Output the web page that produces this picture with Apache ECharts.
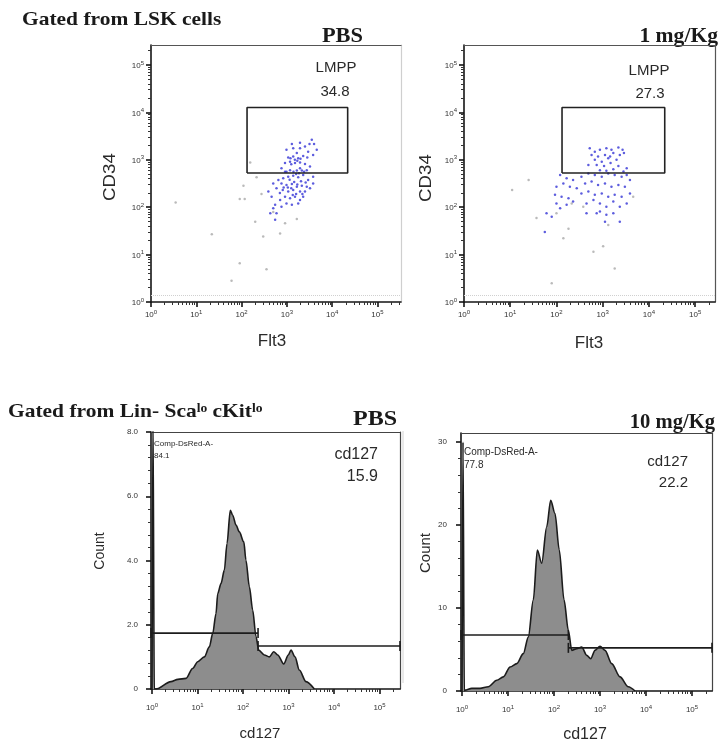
<!DOCTYPE html>
<html>
<head>
<meta charset="utf-8">
<script src="https://cdn.jsdelivr.net/npm/echarts@6/dist/echarts.min.js"></script>
<style>
  html, body { margin: 0; padding: 0; background: #fff; }
  #chart { width: 720px; height: 745px; }
</style>
</head>
<body>
<div id="chart"></div>
<script>
// ---- Flow cytometry data ----------------------------------------------
// LMPP gate, PBS: [Flt3, CD34] events
const pbsBlue = [
  [1290,2140],[1950,2290],[3160,2140],[3980,2140],[980,1620],[1380,1740],[1950,1740],[2510,1905],
  [2950,1480],[1660,1380],[1070,1120],[1200,1070],[1380,1175],[1780,1070],[2290,1200],[2820,1120],
  [3800,1260],[910,850],[1175,912],[1510,850],[1950,870],[2510,810],[1950,660],[1660,590],[2140,590],
  [1175,600],[980,560],[2750,600],[3240,720],[760,660],[4570,1620],[3550,2630],
  [650,372],[830,407],[1070,437],[1380,457],[1780,427],[2290,479],[2950,372],[3800,316],[760,316],
  [980,295],[1290,309],[1660,269],[2140,282],[2750,269],[590,251],[810,229],[1070,214],[1380,229],
  [1950,214],[2510,214],[910,166],[1175,155],[1510,166],[1950,141],[710,141],[980,120],[1290,112],
  [1780,120],[550,112],[500,95],[430,74],[590,74],[550,54],[760,102],[2290,166],[3240,251],[3800,437],
  [460,166],[390,214],[910,560],[500,316],
  [1500,1000],[1700,950],[1250,800],[2000,1050],[1400,560],[1600,500],[1850,520],[2400,560],[1150,380],
  [1450,340],[2050,350],[2600,330],[1700,300],[1250,250],[1600,190],[2200,190],[1350,180],[850,260],
  [700,200],[1050,260]
];
const pbsGrey = [
  [3.5,126],[22,27],[91,6.6],[60,2.8],[355,4.9],[300,24],[200,49],[110,282],[91,148],[117,148],
  [275,190],[214,427],[155,870],[708,28],[912,46],[500,79],[1660,56]
];
// LMPP gate, 1 mg/Kg: [Flt3, CD34] events
const mgBlue = [
  [525,1740],[676,1480],[871,1620],[1202,1740],[1549,1620],[2188,1820],[2692,1620],[575,1260],
  [794,1175],[1122,1260],[1698,1380],[2344,1260],[2884,1380],[676,1000],[955,912],[1318,1070],
  [1995,1000],[490,776],[741,776],[1072,741],[1479,851],[2188,741],[3311,661],[871,603],[1202,589],
  [1698,631],[2818,562],[1445,1175],
  [120,479],[166,407],[229,372],[347,437],[490,513],[676,479],[955,437],[1318,513],[1820,479],
  [2570,437],[3311,479],[3890,372],[100,269],[141,316],[195,269],[275,251],[417,316],[575,347],
  [794,295],[1122,316],[1549,269],[2188,295],[3020,269],[93,182],[129,166],[182,155],[347,195],
  [490,214],[676,182],[955,195],[1318,166],[1820,182],[2570,166],[3890,195],[100,120],[166,112],
  [229,132],[447,120],[631,141],[871,120],[1202,102],[1698,132],[2344,102],[3311,120],[871,81],
  [1202,69],[1698,74],[2344,49],[1122,49],[120,95],[61,74],[56,30],[79,63],[447,74],[741,74]
];
const mgGrey = [
  [11,229],[25,372],[37,59],[100,74],[141,22],[182,35],[214,120],[631,11.5],[1023,15],[1820,5.1],
  [79,2.5],[4571,166],[1318,42],[380,102]
];
const lmppGate = { flt3: [132, 22000], cd34: [525, 12600] };
const lmppPct = ['34.8', '27.3'];

// cd127 histograms: [cd127 intensity, count]
const histPBS = [
  [1.0,0],[1.05,8.5],[1.12,0],[1.22,0],[2.6,0.23],[3.7,0.3],[5.6,0.33],[7.8,0.64],[10.1,0.85],
  [14.1,1.0],[18.2,1.31],[21.6,1.73],[25.5,2.35],[27.8,2.97],[32.8,3.28],[38.9,3.7],[44.5,4.53],
  [52.6,5.56],[59.3,5.41],[70.2,5.1],[83,4.89],[104,4.58],[116,4.01],[138,3.18],[163,2.46],
  [193,1.63],[221,1.21],[294,1.06],[378,1.0],[473,1.16],[579,1.06],[785,0.78],[991,1.06],
  [1135,1.21],[1390,1.0],[1727,0.59],[2427,0.23],[3690,0]
];
const hist10mg = [
  [1.0,0],[1.05,30],[1.12,0],[1.16,0.1],[1.63,0.32],[2.46,0.32],[3.73,0.52],[5.7,1.3],[7.9,1.7],
  [11.1,2.9],[15.5,3.3],[21.5,4.5],[27.6,6.5],[35.5,11],[43.4,17.0],[54,15.4],[69.4,19.8],
  [84.7,23.0],[105,21.4],[130,17.0],[165,11],[205,7.3],[243,4.9],[311,5.1],[400,5.3],[514,4.3],
  [628,3.9],[778,4.9],[1000,5.4],[1285,4.9],[1795,3.3],[2723,1.7],[4121,0.52],[5768,0]
];
const gatePBS = { split: 214, left: 1.74, right: 1.34 };
const gate10mg = { split: 205, left: 6.75, right: 5.2 };
const cd127Pct = ['15.9', '22.2'];
const parentPct = ['84.1', '77.8'];

// ---- Axis helpers -------------------------------------------------------
const SANS = '"Liberation Sans", Arial, sans-serif';
const SERIF = '"Liberation Serif", "Times New Roman", serif';
const INK = '#151515';

function decades(min, max) {
  const out = [];
  for (let e = -1; e <= 6; e++) { const v = Math.pow(10, e); if (v >= min && v <= max) out.push(v); }
  return out;
}
function logMinor(min, max) {
  const out = [];
  for (let e = -1; e <= 6; e++) for (let k = 2; k <= 9; k++) {
    const v = k * Math.pow(10, e); if (v > min && v < max) out.push(v);
  }
  return out;
}
function linMinor(max, step, major) {
  const out = [];
  for (let i = 1; i * step < max; i++) {
    const v = +(i * step).toFixed(4);
    if (Math.abs(v / major - Math.round(v / major)) > 1e-6) out.push(v);
  }
  return out;
}
const expRich = {
  b: { fontSize: 8, fontFamily: SANS, color: '#333', verticalAlign: 'bottom' },
  s: { fontSize: 6, fontFamily: SANS, color: '#333', verticalAlign: 'top', padding: [0, 0, 4, 0] }
};
const expLabel = v => '{b|10}{s|' + Math.round(Math.log10(v)) + '}';

const xAxes = [], yAxes = [];
const hidden = { axisLine: { show: false }, axisTick: { show: false }, axisLabel: { show: false }, splitLine: { show: false } };

function addX(grid, type, min, max, frameColor, opts) {
  const main = xAxes.length;
  const base = { type, gridIndex: grid, min, max, position: 'bottom', splitLine: { show: false } };
  if (type === 'log') base.logBase = 10;
  xAxes.push(Object.assign({}, base, {
    axisLine: { onZero: false, lineStyle: { color: INK, width: 1.6 } },
    axisTick: { customValues: opts.major, length: 5, lineStyle: { color: INK, width: 1.6 } },
    axisLabel: { customValues: opts.major, margin: opts.margin, formatter: expLabel, rich: expRich }
  }));
  xAxes.push(Object.assign({}, base, hidden, {
    axisTick: { show: true, customValues: opts.minor, length: 3, lineStyle: { color: '#333', width: 1 } }
  }));
  xAxes.push(Object.assign({}, base, hidden, {
    position: 'top', axisLine: { show: true, onZero: false, lineStyle: { color: frameColor, width: 1.2 } }
  }));
  return main;
}
function addY(grid, type, min, max, frameColor, opts) {
  const main = yAxes.length;
  const base = { type, gridIndex: grid, min, max, position: 'left', splitLine: { show: false } };
  if (type === 'log') base.logBase = 10;
  yAxes.push(Object.assign({}, base, {
    axisLine: { onZero: false, lineStyle: { color: INK, width: 1.6 } },
    axisTick: { customValues: opts.major, length: 5, lineStyle: { color: INK, width: 1.6 } },
    axisLabel: Object.assign({ customValues: opts.major, margin: opts.margin }, opts.label)
  }));
  yAxes.push(Object.assign({}, base, hidden, {
    axisTick: { show: true, customValues: opts.minor, length: 3, lineStyle: { color: '#333', width: 1 } }
  }));
  yAxes.push(Object.assign({}, base, hidden, {
    position: 'right', axisLine: { show: true, onZero: false, lineStyle: { color: frameColor, width: 1.2 } }
  }));
  return main;
}

// ---- Panels -------------------------------------------------------------
const grids = [
  { left: 151, top: 45, width: 250, height: 257 },
  { left: 464, top: 45, width: 251, height: 257 },
  { left: 151, top: 432, width: 249, height: 257 },
  { left: 461, top: 433, width: 251, height: 258 }
].map(g => Object.assign({ containLabel: false, outerBoundsMode: 'none', show: false }, g));

const logLabelY = { formatter: expLabel, rich: expRich };

// Top: Flt3 vs CD34 dot plots
const sx = [
  addX(0, 'log', 1, 331000, '#555', { major: decades(1, 331000), minor: logMinor(1, 331000), margin: 7 }),
  addX(1, 'log', 1, 269000, '#555', { major: decades(1, 269000), minor: logMinor(1, 269000), margin: 7 })
];
const sy = [
  addY(0, 'log', 1, 263000, '#cfcfcf', { major: decades(1, 263000), minor: logMinor(1, 263000), margin: 7, label: logLabelY }),
  addY(1, 'log', 1, 263000, '#555', { major: decades(1, 263000), minor: logMinor(1, 263000), margin: 7, label: logLabelY })
];
// Bottom: cd127 histograms
const hx = [
  addX(2, 'log', 0.95, 282000, '#444', { major: decades(0.95, 282000), minor: logMinor(0.95, 282000), margin: 13 }),
  addX(3, 'log', 0.95, 272000, '#444', { major: decades(0.95, 272000), minor: logMinor(0.95, 272000), margin: 13 })
];
const countLabel = { fontSize: 8, fontFamily: SANS, color: '#333' };
const hy = [
  addY(2, 'value', 0, 8, '#444', {
    major: [0, 2, 4, 6, 8], minor: linMinor(8, 0.4, 2), margin: 13,
    label: Object.assign({ formatter: v => (v === 0 ? '0' : v.toFixed(1)) }, countLabel)
  }),
  addY(3, 'value', 0, 31.1, '#444', {
    major: [0, 10, 20, 30], minor: linMinor(31.1, 2, 10), margin: 14,
    label: Object.assign({ formatter: v => String(v) }, countLabel)
  })
];

const series = [];
function dotPlot(i, grey, blue) {
  series.push({
    type: 'scatter', xAxisIndex: sx[i], yAxisIndex: sy[i], data: grey, symbolSize: 2.5,
    itemStyle: { color: '#a9a9a9' }, silent: true,
    markLine: {
      silent: true, symbol: 'none', label: { show: false }, animation: false,
      lineStyle: { color: '#d0d0d0', type: 'dotted', width: 1 }, data: [{ yAxis: 1.4 }]
    }
  });
  series.push({
    type: 'scatter', xAxisIndex: sx[i], yAxisIndex: sy[i], data: blue, symbolSize: 2.5,
    itemStyle: { color: '#3434d6' }, silent: true
  });
  const g = lmppGate;
  series.push({
    type: 'line', xAxisIndex: sx[i], yAxisIndex: sy[i], symbol: 'none', silent: true,
    lineStyle: { color: '#222', width: 1.6 },
    data: [[g.flt3[0], g.cd34[0]], [g.flt3[1], g.cd34[0]], [g.flt3[1], g.cd34[1]],
           [g.flt3[0], g.cd34[1]], [g.flt3[0], g.cd34[0]]]
  });
}
dotPlot(0, pbsGrey, pbsBlue);
dotPlot(1, mgGrey, mgBlue);

function histogram(i, data, gate) {
  const xa = xAxes[hx[i]];
  series.push({
    type: 'line', xAxisIndex: hx[i], yAxisIndex: hy[i], data, symbol: 'none', silent: true,
    smooth: 0.3, smoothMonotone: 'x',
    lineStyle: { color: '#1c1c1c', width: 1.6 },
    areaStyle: { color: '#8d8d8d', opacity: 1 }
  });
  const bar = (pts) => ({
    type: 'line', xAxisIndex: hx[i], yAxisIndex: hy[i], data: pts, silent: true,
    symbol: 'rect', symbolSize: [1.6, 10], showSymbol: true, z: 5,
    lineStyle: { color: '#1c1c1c', width: 1.6 }, itemStyle: { color: '#1c1c1c' }
  });
  series.push(bar([[xa.min, gate.left], [gate.split, gate.left]]));
  series.push(bar([[gate.split, gate.right], [xa.max, gate.right]]));
}
histogram(0, histPBS, gatePBS);
histogram(1, hist10mg, gate10mg);

// ---- Text -----------------------------------------------------------------
function txt(x, y, text, font, extra) {
  return Object.assign({
    type: 'text', x, y, silent: true,
    style: Object.assign({ text, fill: '#1a1a1a', align: 'center', verticalAlign: 'middle' }, font)
  }, extra || {});
}
const serifBold = (size) => ({ font: 'bold ' + size + 'px ' + SERIF });
const sans = (size) => ({ font: size + 'px ' + SANS, fill: '#2a2a2a' });

const graphic = [
  txt(22, 20, 'Gated from LSK cells', Object.assign(serifBold(19), { align: 'left' }), { scaleX: 1.13 }),
  txt(363, 37, 'PBS', Object.assign(serifBold(20), { align: 'right' }), { scaleX: 1.12 }),
  txt(718, 37, '1 mg/Kg', Object.assign(serifBold(20), { align: 'right' }), { scaleX: 1.08 }),
  txt(8, 412, 'Gated from Lin- Sca{sup|lo} cKit{sup|lo}', Object.assign(serifBold(19), {
    align: 'left',
    rich: { sup: { font: 'bold 12px ' + SERIF, verticalAlign: 'top', padding: [0, 0, 6, 0] } }
  }), { scaleX: 1.13 }),
  txt(397, 420, 'PBS', Object.assign(serifBold(20), { align: 'right' }), { scaleX: 1.2 }),
  txt(715, 423, '10 mg/Kg', Object.assign(serifBold(20), { align: 'right' }), { scaleX: 1.03 }),

  txt(336, 68, 'LMPP', sans(15)),
  txt(335, 92, lmppPct[0], sans(15)),
  txt(649, 71, 'LMPP', sans(15)),
  txt(650, 94, lmppPct[1], sans(15)),

  txt(110, 177, 'CD34', sans(17), { rotation: Math.PI / 2, scaleX: 1.1 }),
  txt(426, 178, 'CD34', sans(17), { rotation: Math.PI / 2, scaleX: 1.1 }),
  txt(272, 341, 'Flt3', sans(17)),
  txt(589, 343, 'Flt3', sans(17)),
  txt(100, 551, 'Count', sans(14), { rotation: Math.PI / 2 }),
  txt(426, 553, 'Count', sans(15), { rotation: Math.PI / 2 }),
  txt(260, 734, 'cd127', sans(15)),
  txt(585, 735, 'cd127', sans(16)),

  txt(154, 444, 'Comp-DsRed-A-', Object.assign(sans(8), { align: 'left' })),
  txt(154, 456, parentPct[0], Object.assign(sans(8), { align: 'left' })),
  txt(464, 452, 'Comp-DsRed-A-', Object.assign(sans(10), { align: 'left' })),
  txt(464, 465, parentPct[1], Object.assign(sans(10), { align: 'left' })),
  txt(378, 455, 'cd127', Object.assign(sans(16), { align: 'right' })),
  txt(378, 477, cd127Pct[0], Object.assign(sans(16), { align: 'right' })),
  txt(688, 462, 'cd127', Object.assign(sans(15), { align: 'right' })),
  txt(688, 483, cd127Pct[1], Object.assign(sans(15), { align: 'right' })),

  // scanned panel edge beside the 10 mg/Kg histogram
  { type: 'line', silent: true, shape: { x1: 403, y1: 431, x2: 403, y2: 683 }, style: { stroke: '#d4d4d4', lineWidth: 1 } }
];

const chart = echarts.init(document.getElementById('chart'), null, { renderer: 'canvas' });
chart.setOption({
  animation: false,
  backgroundColor: '#ffffff',
  textStyle: { fontFamily: SANS },
  grid: grids,
  xAxis: xAxes,
  yAxis: yAxes,
  series,
  graphic
});
</script>
</body>
</html>
